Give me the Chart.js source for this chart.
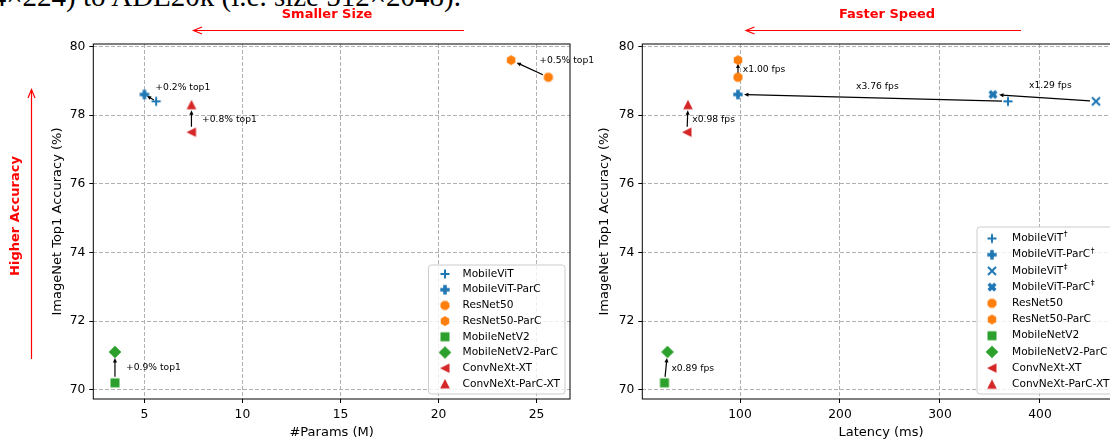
<!DOCTYPE html>
<html>
<head>
<meta charset="utf-8">
<script src="https://cdn.jsdelivr.net/npm/chart.js@4/dist/chart.umd.min.js"></script>
<style>
  html, body { margin: 0; padding: 0; background: #fff; }
  #wrap { position: relative; width: 1110px; height: 443px; overflow: hidden; background: #fff; }
  .abs { position: absolute; }
  .paper { position: absolute; top: -18px; right: 649px; white-space: nowrap; font: 29px "Liberation Serif", serif; line-height: 29px; color: #000; }
  .hint { position: absolute; font: bold 13px "DejaVu Sans", sans-serif; color: #ff0000; white-space: nowrap; transform: translate(-50%, -50%); }
</style>
</head>
<body>
<div id="wrap">
  <div class="paper">(i.e. size 224×224) to ADE20k (i.e. size 512×2048).</div>
  <div class="abs" style="left:0;top:0;width:610px;height:443px"><canvas id="paramsChart" width="610" height="443"></canvas></div>
  <div class="abs" style="left:580px;top:0;width:560px;height:443px"><canvas id="latencyChart" width="560" height="443"></canvas></div>
  <svg class="abs" style="left:0;top:0" width="1110" height="443">
    <g stroke="#ff0000" stroke-width="1.2" fill="none">
      <line x1="464" y1="30.5" x2="193.5" y2="30.5"/>
      <polyline points="202,27 193.5,30.5 202,34"/>
      <line x1="1021" y1="30.5" x2="746" y2="30.5"/>
      <polyline points="754.5,27 746,30.5 754.5,34"/>
      <line x1="31.5" y1="359" x2="31.5" y2="89.5"/>
      <polyline points="28,98 31.5,89.5 35,98"/>
    </g>
  </svg>
  <div class="hint" style="left:327px;top:13px">Smaller Size</div>
  <div class="hint" style="left:887px;top:13px">Faster Speed</div>
  <div class="hint" style="left:14px;top:216px;transform:translate(-50%,-50%) rotate(-90deg)">Higher Accuracy</div>
</div>
<script>
// left panel: accuracy vs parameter count
const paramModels = ['MobileViT', 'MobileViT-ParC', 'ResNet50', 'ResNet50-ParC',
  'MobileNetV2', 'MobileNetV2-ParC', 'ConvNeXt-XT', 'ConvNeXt-ParC-XT'];
const paramsM = [5.6, 5.0, 25.6, 23.7, 3.5, 3.5, 7.4, 7.4];
const paramsAcc = [78.4, 78.6, 79.1, 79.6, 70.2, 71.1, 77.5, 78.3];
const paramsNoteText = ['+0.2% top1', '+0.5% top1', '+0.9% top1', '+0.8% top1'];
const paramsNoteFrom = [0, 2, 4, 6];
const paramsNoteTo = [1, 3, 5, 7];
const paramsNoteX = [5.56, 25.14, 4.06, 7.94];
const paramsNoteY = [78.8, 79.6, 70.63, 77.86];
const paramsTicks = [5, 10, 15, 20, 25];

// right panel: accuracy vs latency
const latModels = ['MobileViT†', 'MobileViT-ParC†', 'MobileViT‡', 'MobileViT-ParC‡',
  'ResNet50', 'ResNet50-ParC', 'MobileNetV2', 'MobileNetV2-ParC', 'ConvNeXt-XT', 'ConvNeXt-ParC-XT'];
const latencyMs = [368, 98, 456, 353, 98, 98, 24.5, 27.5, 47, 48];
const latencyAcc = [78.4, 78.6, 78.4, 78.6, 79.1, 79.6, 70.2, 71.1, 77.5, 78.3];
const latNoteText = ['x3.76 fps', 'x1.29 fps', 'x1.00 fps', 'x0.89 fps', 'x0.98 fps'];
const latNoteFrom = [0, 2, 4, 6, 8];
const latNoteTo = [1, 3, 5, 7, 9];
const latNoteX = [216, 389, 102.7, 31.4, 52.3];
const latNoteY = [78.83, 78.86, 79.33, 70.62, 77.86];
const latTicks = [100, 200, 300, 400];

const accTicks = [70, 72, 74, 76, 78, 80];

const BLUE = '#1f77b4', ORANGE = '#ff7f0e', GREEN = '#2ca02c', RED = '#d62728';
const paramShapes = ['plus', 'bigplus', 'octagon', 'hexagon', 'square', 'diamond', 'tleft', 'tup'];
const paramColors = [BLUE, BLUE, ORANGE, ORANGE, GREEN, GREEN, RED, RED];
const latShapes = ['plus', 'bigplus', 'x', 'bigx', 'octagon', 'hexagon', 'square', 'diamond', 'tleft', 'tup'];
const latColors = [BLUE, BLUE, BLUE, BLUE, ORANGE, ORANGE, GREEN, GREEN, RED, RED];

Chart.defaults.font.family = '"DejaVu Sans", sans-serif';
Chart.defaults.color = '#000';

function poly(g, pts) {
  g.beginPath();
  pts.forEach((p, i) => (i ? g.lineTo(p[0], p[1]) : g.moveTo(p[0], p[1])));
  g.closePath();
  g.fill();
}

function makeMarker(kind, color) {
  const c = document.createElement('canvas');
  c.width = 16;
  c.height = 16;
  const g = c.getContext('2d');
  g.translate(8, 8);
  g.fillStyle = color;
  g.strokeStyle = color;
  if (kind === 'plus') {
    g.lineWidth = 2;
    g.beginPath();
    g.moveTo(-4.5, 0); g.lineTo(4.5, 0);
    g.moveTo(0, -4.5); g.lineTo(0, 4.5);
    g.stroke();
  } else if (kind === 'x') {
    g.lineWidth = 2;
    g.beginPath();
    g.moveTo(-4, -4); g.lineTo(4, 4);
    g.moveTo(-4, 4); g.lineTo(4, -4);
    g.stroke();
  } else if (kind === 'bigplus' || kind === 'bigx') {
    const a = 4.7, b = 1.8;
    if (kind === 'bigx') g.rotate(Math.PI / 4);
    poly(g, [[-b, -a], [b, -a], [b, -b], [a, -b], [a, b], [b, b], [b, a], [-b, a], [-b, b], [-a, b], [-a, -b], [-b, -b]]);
  } else if (kind === 'hexagon' || kind === 'octagon') {
    const n = kind === 'hexagon' ? 6 : 8;
    const start = kind === 'hexagon' ? -Math.PI / 2 : Math.PI / 8;
    const r = 4.9;
    const pts = [];
    for (let k = 0; k < n; k++) {
      const t = start + (k * 2 * Math.PI) / n;
      pts.push([r * Math.cos(t), r * Math.sin(t)]);
    }
    poly(g, pts);
  } else if (kind === 'square') {
    g.fillRect(-4.5, -4.5, 9, 9);
  } else if (kind === 'diamond') {
    poly(g, [[0, -6.3], [6.3, 0], [0, 6.3], [-6.3, 0]]);
  } else if (kind === 'tup') {
    poly(g, [[0, -5], [4.8, 4.5], [-4.8, 4.5]]);
  } else if (kind === 'tleft') {
    poly(g, [[-5, 0], [4.5, -4.8], [4.5, 4.8]]);
  }
  return c;
}

function notesPlugin(xs, ys, from, to, texts, tx, ty) {
  return {
    id: 'notes',
    beforeDatasetsDraw(chart) {
      const { ctx, chartArea: a, scales: { x, y } } = chart;
      ctx.save();
      ctx.strokeStyle = '#000';
      ctx.lineWidth = 1;
      ctx.strokeRect(a.left, a.top, a.right - a.left, a.bottom - a.top);
      from.forEach((f, i) => {
        const t = to[i];
        const x1 = x.getPixelForValue(xs[f]), y1 = y.getPixelForValue(ys[f]);
        const x2 = x.getPixelForValue(xs[t]), y2 = y.getPixelForValue(ys[t]);
        const d = Math.hypot(x2 - x1, y2 - y1);
        const ux = (x2 - x1) / d, uy = (y2 - y1) / d;
        const s = Math.min(6, d * 0.2);
        const sx = x1 + ux * s, sy = y1 + uy * s;
        const ex = x2 - ux * s, ey = y2 - uy * s;
        ctx.strokeStyle = '#000';
        ctx.fillStyle = '#000';
        ctx.lineWidth = 1.2;
        ctx.beginPath();
        ctx.moveTo(sx, sy);
        ctx.lineTo(ex - ux * 3, ey - uy * 3);
        ctx.stroke();
        ctx.beginPath();
        ctx.moveTo(ex, ey);
        ctx.lineTo(ex - ux * 4.5 - uy * 2, ey - uy * 4.5 + ux * 2);
        ctx.lineTo(ex - ux * 4.5 + uy * 2, ey - uy * 4.5 - ux * 2);
        ctx.closePath();
        ctx.fill();
        ctx.font = '9.2px "DejaVu Sans"';
        ctx.textBaseline = 'middle';
        ctx.textAlign = 'left';
        ctx.fillText(texts[i], x.getPixelForValue(tx[i]), y.getPixelForValue(ty[i]));
      });
      ctx.restore();
    },
  };
}

function legendPlugin(labels, imgs, box) {
  return {
    id: 'boxLegend',
    afterDatasetsDraw(chart) {
      const ctx = chart.ctx;
      ctx.save();
      ctx.beginPath();
      ctx.roundRect(box.left, box.top, box.width, box.height, 3);
      ctx.fillStyle = 'rgba(255,255,255,0.8)';
      ctx.fill();
      ctx.strokeStyle = '#cccccc';
      ctx.lineWidth = 1;
      ctx.stroke();
      labels.forEach((lab, i) => {
        const yy = box.y0 + i * box.step;
        ctx.drawImage(imgs[i], box.mx - 8, yy - 8);
        let main = lab, sup = '';
        if (/[†‡]$/.test(lab)) {
          main = lab.slice(0, -1);
          sup = lab.slice(-1);
        }
        ctx.fillStyle = '#000';
        ctx.textBaseline = 'middle';
        ctx.textAlign = 'left';
        ctx.font = '10.6px "DejaVu Sans"';
        ctx.fillText(main, box.tx, yy);
        if (sup) {
          const w = ctx.measureText(main).width;
          ctx.font = '7.5px "DejaVu Sans"';
          ctx.fillText(sup, box.tx + w + 0.5, yy - 4);
        }
      });
      ctx.restore();
    },
  };
}

function axisOpts(ticks, min, max, title, fit, titlePad) {
  return {
    type: 'linear',
    min: min,
    max: max,
    afterBuildTicks: (s) => { s.ticks = ticks.map((v) => ({ value: v })); },
    afterFit: fit,
    border: { display: false, dash: [4, 2] },
    grid: { color: '#b0b0b0', lineWidth: 1, tickLength: 4, tickColor: '#000', tickWidth: 1 },
    ticks: { font: { size: 12.3 }, color: '#000', padding: 4, maxRotation: 0, autoSkip: false },
    title: { display: true, text: title, font: { size: 13 }, color: '#000', padding: titlePad },
  };
}

function buildChart(id, names, xs, ys, shapes, colors, xAxis, yAxis, padRight, plugins) {
  const imgs = shapes.map((s, i) => makeMarker(s, colors[i]));
  const datasets = names.map((n, i) => ({
    label: n,
    data: [{ x: xs[i], y: ys[i] }],
    pointStyle: imgs[i],
    pointRadius: 5,
    backgroundColor: colors[i],
    borderColor: colors[i],
  }));
  return new Chart(document.getElementById(id), {
    type: 'scatter',
    data: { datasets },
    options: {
      responsive: false,
      animation: false,
      events: [],
      layout: { padding: { left: 0, top: 44, right: padRight, bottom: 0 } },
      plugins: { legend: { display: false }, tooltip: { enabled: false } },
      scales: { x: xAxis, y: yAxis },
    },
    plugins: plugins(imgs),
  });
}

buildChart('paramsChart', paramModels, paramsM, paramsAcc, paramShapes, paramColors,
  axisOpts(paramsTicks, 2.395, 26.705, '#Params (M)', (s) => { s.height = 44; }, { top: 0, bottom: 3 }),
  axisOpts(accTicks, 69.73, 80.07, 'ImageNet Top1 Accuracy (%)', (s) => { s.width = 93.3; }, { top: 50, bottom: 0 }),
  40,
  (imgs) => [
    notesPlugin(paramsM, paramsAcc, paramsNoteFrom, paramsNoteTo, paramsNoteText, paramsNoteX, paramsNoteY),
    legendPlugin(paramModels, imgs, { left: 428.5, top: 265, width: 136.5, height: 129, mx: 445, tx: 462.5, y0: 274, step: 15.7 }),
  ]);

buildChart('latencyChart', latModels, latencyMs, latencyAcc, latShapes, latColors,
  axisOpts(latTicks, 2.3, 479.7, 'Latency (ms)', (s) => { s.height = 44; }, { top: 0, bottom: 3 }),
  axisOpts(accTicks, 69.73, 80.07, 'ImageNet Top1 Accuracy (%)', (s) => { s.width = 62.3; }, { top: 17.2, bottom: 0 }),
  20.3,
  (imgs) => [
    notesPlugin(latencyMs, latencyAcc, latNoteFrom, latNoteTo, latNoteText, latNoteX, latNoteY),
    legendPlugin(latModels, imgs, { left: 397, top: 227, width: 160, height: 167, mx: 412, tx: 432, y0: 238.5, step: 16.2 }),
  ]);
</script>
</body>
</html>
